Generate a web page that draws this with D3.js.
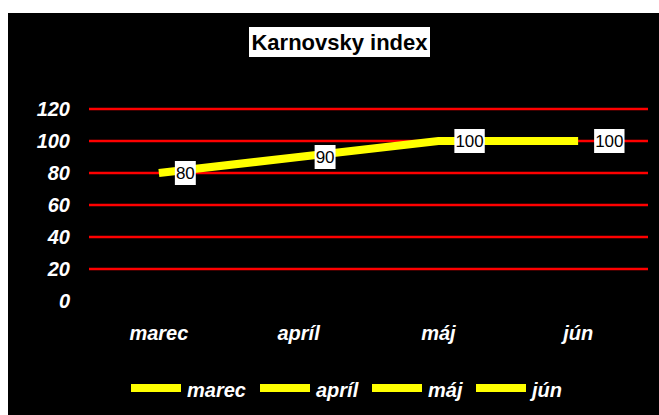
<!DOCTYPE html>
<html>
<head>
<meta charset="utf-8">
<script src="https://cdn.jsdelivr.net/npm/d3@7"></script>
<style>
  html, body { margin: 0; padding: 0; background: #fff; }
  svg { display: block; }
</style>
</head>
<body>
<svg id="chart" width="659" height="415"></svg>
<script>
const title = "Karnovsky index";
const categories = ["marec", "apríl", "máj", "jún"];
const values = [80, 90, 100, 100];
const yTicks = [0, 20, 40, 60, 80, 100, 120];

const svg = d3.select("#chart");
const W = 659, H = 415;
const FONT = "Liberation Sans, Arial, sans-serif";

svg.append("rect").attr("x", 8).attr("y", 13).attr("width", W - 8).attr("height", H - 13).attr("fill", "#000");

const x = d3.scaleBand().domain(categories).range([89, 648]);
const y = d3.scaleLinear().domain([0, 120]).range([301, 109]);

// gridlines
svg.append("g").selectAll("line").data(yTicks.filter(d => d > 0)).join("line")
  .attr("x1", 89).attr("x2", 648)
  .attr("y1", d => y(d)).attr("y2", d => y(d))
  .attr("stroke", "#ff0000").attr("stroke-width", 2.5);

// y axis labels
const yAxis = d3.axisLeft(y).tickValues(yTicks).tickSize(0).tickPadding(0);
const gy = svg.append("g").attr("transform", "translate(70,0)").call(yAxis);
gy.select(".domain").remove();
gy.selectAll("text")
  .attr("fill", "#fff")
  .style("font-family", FONT)
  .style("font-size", "20px").style("font-weight", "bold").style("font-style", "italic");

// x axis labels
const xAxis = d3.axisBottom(x).tickSize(0).tickPadding(0);
const gx = svg.append("g").attr("transform", "translate(0,325)").call(xAxis);
gx.select(".domain").remove();
gx.selectAll("text")
  .attr("fill", "#fff").attr("dy", "0.75em")
  .style("font-family", FONT)
  .style("font-size", "20px").style("font-weight", "bold").style("font-style", "italic");

// line
const pts = categories.map((c, i) => [x(c) + x.bandwidth() / 2, y(values[i])]);
svg.append("path").datum(pts)
  .attr("d", d3.line())
  .attr("fill", "none").attr("stroke", "#ffff00").attr("stroke-width", 8);

// data labels
const lbl = svg.append("g").selectAll("g").data(pts.map((p, i) => ({p, v: values[i]}))).join("g");
lbl.each(function(d) {
  const g = d3.select(this);
  const r = g.append("rect").attr("fill", "#fff");
  const t = g.append("text").text(d.v)
    .attr("x", d.p[0] + 17).attr("y", d.p[1]).attr("dy", "0.35em")
    .attr("fill", "#000")
    .style("font-family", FONT).style("font-size", "17px");
  const bb = t.node().getBBox();
  r.attr("x", bb.x - 1).attr("y", d.p[1] - 12).attr("width", bb.width + 2).attr("height", 24);
});

// title
svg.append("rect").attr("x", 249).attr("y", 27).attr("width", 181).attr("height", 30).attr("fill", "#fff");
svg.append("text").text(title)
  .attr("x", 339.5).attr("y", 42).attr("dy", "0.36em").attr("text-anchor", "middle")
  .attr("fill", "#000")
  .style("font-family", FONT).style("font-size", "22px").style("font-weight", "bold");

// legend
const legX = [131, 260, 372, 476];
const leg = svg.append("g").selectAll("g").data(categories).join("g")
  .attr("transform", (d, i) => `translate(${legX[i]},384)`);
leg.append("rect").attr("width", 50).attr("height", 8).attr("fill", "#ffff00");
leg.append("text").text(d => d).attr("x", 56).attr("y", 13)
  .attr("fill", "#fff")
  .style("font-family", FONT)
  .style("font-size", "20px").style("font-weight", "bold").style("font-style", "italic");
</script>
</body>
</html>
